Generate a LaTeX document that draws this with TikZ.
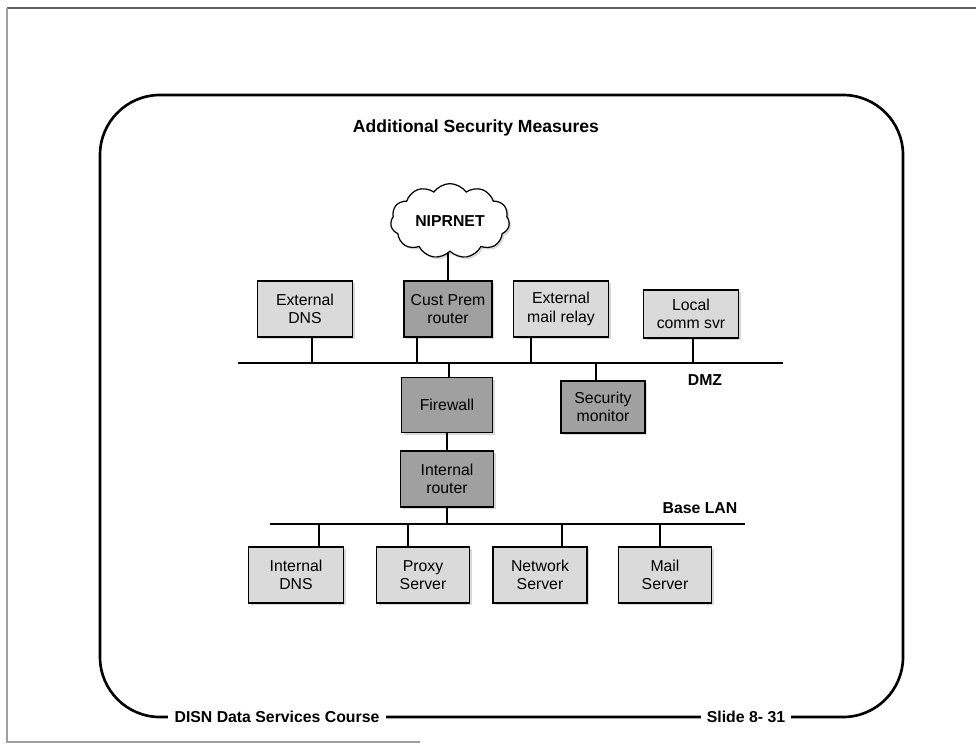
\documentclass[tikz,border=0pt]{standalone}
\usepackage{fontspec}
\setmainfont{Liberation Sans}
\usetikzlibrary{positioning,shapes.symbols,shadows}
\definecolor{netlight}{RGB}{218,218,218}
\definecolor{netdark}{RGB}{160,160,160}
\definecolor{netframe}{RGB}{95,95,95}

\begin{document}
\begin{tikzpicture}[x=0.02cm,y=-0.02cm,font=\fontsize{9}{10.5}\selectfont,
    hostbox/.style={draw,line width=0.7pt,fill=netlight,align=center,inner sep=1pt,
        minimum width=1.9cm,minimum height=1.12cm,
        drop shadow={shadow xshift=1.2pt,shadow yshift=-1.2pt,opacity=0.3}},
    hostdark/.style={hostbox,fill=netdark},
    bus/.style={line width=1.1pt},
    tap/.style={line width=0.7pt},
    footer/.style={fill=white,inner xsep=3.5pt,inner ysep=1pt,
        font=\bfseries\fontsize{9}{10}\selectfont}]
    \useasboundingbox (0,0) rectangle (976,743);
    % folha
    \draw[netframe,line width=1pt] (976,8) -- (7,8);
    \draw[netframe!60,line width=0.9pt] (7,8) -- (7,742) -- (420,742);
    % moldura do slide
    \draw[line width=1.5pt,rounded corners=1.2cm]
        (500,717) -| (100,95) -| (903,717) -- cycle;
    \node[footer] (course) at (277,717) {DISN Data Services Course};
    \node[footer] (slide) at (746,717) {Slide 8- 31};
    \node[font=\bfseries\fontsize{10}{12}\selectfont] (title) at (476,128)
        {Additional Security Measures};
    % rede externa
    \node[cloud,draw,line width=0.7pt,fill=white,cloud puffs=11,cloud puff arc=110,
        aspect=1.9,minimum width=2.36cm,minimum height=1.34cm,
        font=\bfseries\fontsize{9}{10}\selectfont,
        drop shadow={shadow xshift=1.2pt,shadow yshift=-1.2pt,opacity=0.3}]
        (niprnet) at (450,221) {NIPRNET};
    % DMZ
    \node[hostbox] (extdns) at (305,309) {External\\DNS};
    \node[hostdark,minimum width=1.76cm] (custprem) at (448,309) {Cust Prem\\router};
    \node[hostbox] (mailrelay) at (561,309) {External\\mail relay};
    \node[hostbox,minimum height=0.96cm] (commsvr) at (691,314) {Local\\comm svr};
    \node[hostdark,minimum width=1.82cm,minimum height=1.1cm] (firewall) at (447,405) {Firewall};
    \node[hostdark,minimum width=1.68cm,minimum height=1.04cm] (secmon) at (603,407)
        {Security\\monitor};
    \coordinate (dmzL) at (238,363);
    \coordinate (dmzR) at (783,363);
    \draw[bus] (dmzL) -- (dmzR);
    \node[font=\bfseries\fontsize{9}{10}\selectfont] (dmz) at (705,380) {DMZ};
    \draw[tap] (custprem.north) -- (custprem.north |- niprnet.south);
    \foreach \n/\x in {extdns/312,custprem/417,mailrelay/531,commsvr/693}{
        \draw[tap] (\n.south -| \x,0) -- (\x,0 |- dmzL);
    }
    \foreach \n/\x in {firewall/449,secmon/596}{
        \draw[tap] (\n.north -| \x,0) -- (\x,0 |- dmzL);
    }
    % rede interna
    \node[hostdark,minimum width=1.86cm] (introuter) at (447,479) {Internal\\router};
    \draw[tap] (firewall.south) -- (introuter.north);
    \coordinate (lanL) at (270,524);
    \coordinate (lanR) at (745,524);
    \draw[bus] (lanL) -- (lanR);
    \node[font=\bfseries\fontsize{9}{10}\selectfont] (baselan) at (700,508) {Base LAN};
    \draw[tap] (introuter.south) -- (introuter.south |- lanL);
    \node[hostbox] (intdns) at (296,575) {Internal\\DNS};
    \node[hostbox,minimum width=1.86cm] (proxy) at (423,575) {Proxy\\Server};
    \node[hostbox,minimum width=1.88cm] (netsvr) at (540,575) {Network\\Server};
    \node[hostbox,minimum width=1.86cm] (mailsvr) at (665,575) {Mail\\Server};
    \foreach \n/\x in {intdns/319,proxy/408,netsvr/562,mailsvr/660}{
        \draw[tap] (\n.north -| \x,0) -- (\x,0 |- lanL);
    }
\end{tikzpicture}
\end{document}
